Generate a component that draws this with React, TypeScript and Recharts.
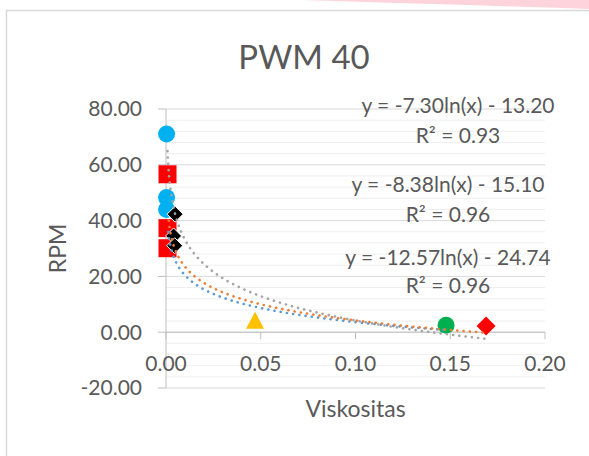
import React from "react";
import {
  ScatterChart,
  Scatter,
  XAxis,
  YAxis,
  CartesianGrid,
  ReferenceLine,
} from "recharts";

const W = 589;
const H = 456;
const FONT = "Lato, 'Open Sans', sans-serif";
const TEXT = "#595959";
const AXIS = "#bfbfbf";

// plot box (Excel layout)
const PLOT = { left: 166, right: 545, top: 109, bottom: 388 };

const xTicks = [0, 0.05, 0.1, 0.15, 0.2];
const yTicks = [-20, 0, 20, 40, 60, 80];
const yMinor = [-16, -12, -8, -4, 4, 8, 12, 16, 24, 28, 32, 36, 44, 48, 52, 56, 64, 68, 72, 76];

// measured points
const blueX = [0.0003, 0.0003, 0.0003];
const blueY = [71.0, 48.3, 44.0];
const squareX = [0.0008, 0.0008, 0.0008];
const squareY = [56.6, 37.3, 30.1];
const diamondX = [0.0048, 0.004, 0.0046];
const diamondY = [42.3, 34.5, 31.0];
const triangleX = [0.047];
const triangleY = [4.3];
const greenX = [0.1478];
const greenY = [2.5];
const redDiamondX = [0.1689];
const redDiamondY = [2.2];

// log trendlines, coefficients as printed on the chart
const trendA = [-7.3, -8.38, -12.57];
const trendB = [-13.2, -15.1, -24.74];
const trendR2 = [0.93, 0.96, 0.96];
const trendFrom = [0.0012, 0.0014, 0.0008];
const trendTo = [0.1478, 0.1689, 0.1689];
const trendColors = ["#5B9BD5", "#ED7D31", "#A5A5A5"];

// where the equation labels sit
const labelX = [458, 448, 448];
const labelY = [113, 192, 265];
const r2Y = [143, 222, 293];

const zip = (xs: number[], ys: number[]) => xs.map((x, i) => ({ x, y: ys[i] }));

const trendData = (i: number) => {
  const n = 90;
  const pts = [];
  const l0 = Math.log(trendFrom[i]);
  const l1 = Math.log(trendTo[i]);
  for (let k = 0; k <= n; k++) {
    const lx = l0 + ((l1 - l0) * k) / n;
    pts.push({ x: Math.exp(lx), y: trendA[i] * lx + trendB[i] });
  }
  return pts;
};

const zeroY = PLOT.top + ((PLOT.bottom - PLOT.top) * 80) / 100;

const XTick = (props: any) => {
  const { x, payload } = props;
  return (
    <g>
      <line x1={x} x2={x} y1={zeroY} y2={zeroY + 7} stroke={AXIS} />
      <text x={x} y={zeroY + 39} textAnchor="middle" fill={TEXT} fontSize={21} fontFamily={FONT}>
        {payload.value.toFixed(2)}
      </text>
    </g>
  );
};

const Circle = (color: string) => (p: any) => <circle cx={p.cx} cy={p.cy} r={8.5} fill={color} />;
const Square = (p: any) => <rect x={p.cx - 9} y={p.cy - 9} width={18} height={18} fill="#FF0000" />;
const Diamond = (color: string, s: number, stroke: string) => (p: any) => (
  <polygon
    points={`${p.cx},${p.cy - s} ${p.cx + s},${p.cy} ${p.cx},${p.cy + s} ${p.cx - s},${p.cy}`}
    fill={color}
    stroke={stroke}
    strokeWidth={1}
  />
);
const Triangle = (p: any) => (
  <polygon
    points={`${p.cx},${p.cy - 8.5} ${p.cx + 9},${p.cy + 8.5} ${p.cx - 9},${p.cy + 8.5}`}
    fill="#FFC000"
  />
);

const fmtEq = (i: number) =>
  `y = ${trendA[i].toFixed(2)}ln(x) - ${Math.abs(trendB[i]).toFixed(2)}`;

export default function App() {
  return (
    <div style={{ position: "absolute", left: 0, top: 0, width: W, height: H, background: "#fff" }}>
      <svg width={W} height={H} style={{ position: "absolute", left: 0, top: 0 }}>
        <path d="M300,0 C400,3 500,6 589,9 L589,0 Z" fill="#FFD3DB" />
        <line x1={6} x2={W} y1={10.5} y2={10.5} stroke="#d9d9d9" strokeWidth={1.5} />
        <line x1={6.5} x2={6.5} y1={10} y2={H} stroke="#d9d9d9" strokeWidth={1.5} />
      </svg>
      <div style={{ position: "absolute", left: 0, top: 0 }}>
        <ScatterChart
          width={W}
          height={H}
          margin={{ top: PLOT.top, right: W - PLOT.right, left: PLOT.left - 62, bottom: H - PLOT.bottom - 30 }}
          style={{ fontFamily: FONT }}
        >
          {yMinor.map((v) => (
            <ReferenceLine key={v} y={v} stroke="#efefef" strokeWidth={1} />
          ))}
          <CartesianGrid vertical={false} stroke="#d9d9d9" />
          <XAxis
            type="number"
            dataKey="x"
            domain={[0, 0.2]}
            ticks={xTicks}
            axisLine={false}
            tickLine={false}
            height={30}
            tick={<XTick />}
          />
          <YAxis
            type="number"
            dataKey="y"
            domain={[-20, 80]}
            ticks={yTicks}
            width={62}
            axisLine={{ stroke: AXIS }}
            tickLine={{ stroke: AXIS }}
            tickSize={8}
            tickMargin={16}
            tickFormatter={(v: number) => v.toFixed(2)}
            tick={{ fill: TEXT, fontSize: 21, fontFamily: FONT }}
          />
          <ReferenceLine y={0} stroke={AXIS} strokeWidth={1} />
          <Scatter data={zip(squareX, squareY)} shape={Square} isAnimationActive={false} />
          <Scatter data={zip(blueX, blueY)} shape={Circle("#00B0F0")} isAnimationActive={false} />
          <Scatter data={zip(diamondX, diamondY)} shape={Diamond("#000000", 8, "#ffffff")} isAnimationActive={false} />
          <Scatter data={zip(triangleX, triangleY)} shape={Triangle} isAnimationActive={false} />
          <Scatter data={zip(greenX, greenY)} shape={Circle("#00B050")} isAnimationActive={false} />
          <Scatter data={zip(redDiamondX, redDiamondY)} shape={Diamond("#FF0000", 9.5, "none")} isAnimationActive={false} />
          {trendColors.map((c, i) => (
            <Scatter
              key={c}
              data={trendData(i)}
              line={{ stroke: c, strokeWidth: 2.6, strokeDasharray: "0.1 6.2", strokeLinecap: "round" }}
              shape={() => <g />}
              isAnimationActive={false}
            />
          ))}
        </ScatterChart>
      </div>
      <svg width={W} height={H} style={{ position: "absolute", left: 0, top: 0, pointerEvents: "none" }}>
        <text x={304} y={69} textAnchor="middle" fill={TEXT} fontSize={33} fontFamily={FONT}>
          PWM 40
        </text>
        <text
          x={0}
          y={0}
          transform={`translate(66, ${(PLOT.top + PLOT.bottom) / 2}) rotate(-90)`}
          textAnchor="middle"
          fill={TEXT}
          fontSize={23}
          fontFamily={FONT}
        >
          RPM
        </text>
        <text x={(PLOT.left + PLOT.right) / 2} y={417} textAnchor="middle" fill={TEXT} fontSize={23} fontFamily={FONT}>
          Viskositas
        </text>
        {trendA.map((_, i) => (
          <g key={i}>
            <text x={labelX[i]} y={labelY[i]} textAnchor="middle" fill={TEXT} fontSize={21} fontFamily={FONT}>
              {fmtEq(i)}
            </text>
            <text x={labelX[i]} y={r2Y[i]} textAnchor="middle" fill={TEXT} fontSize={21} fontFamily={FONT}>
              {`R² = ${trendR2[i].toFixed(2)}`}
            </text>
          </g>
        ))}
      </svg>
    </div>
  );
}
